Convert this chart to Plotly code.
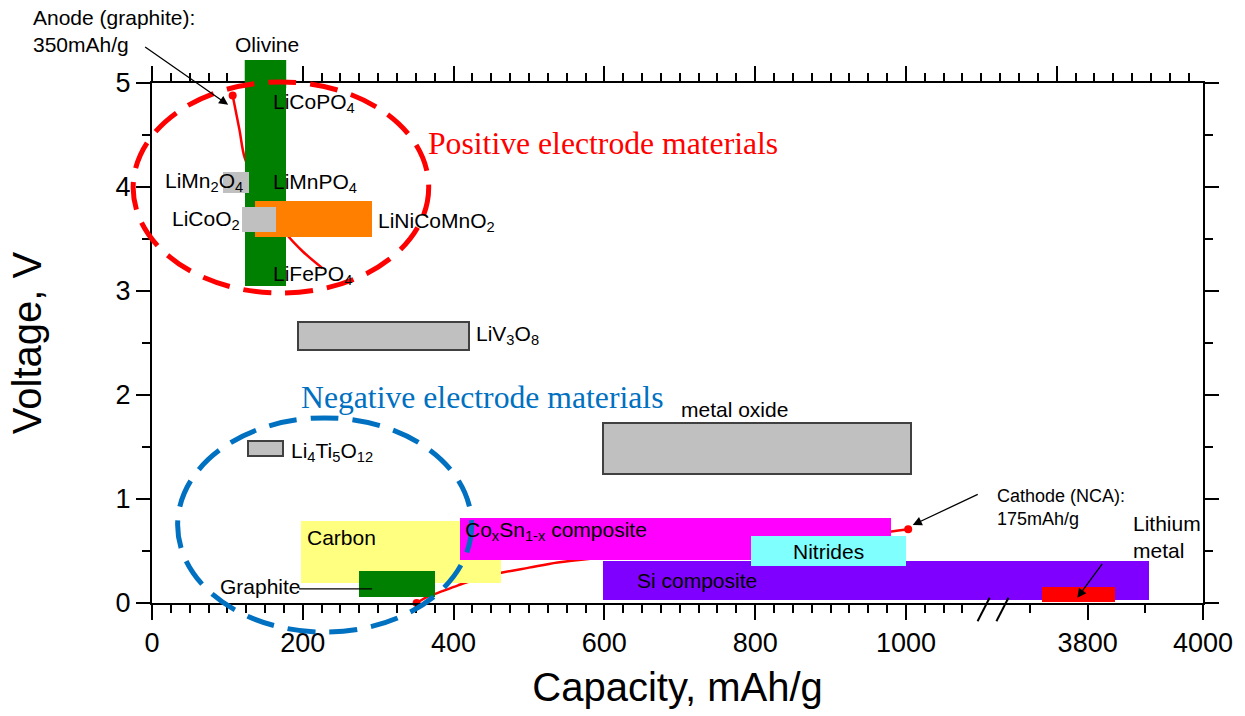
import plotly.graph_objects as go

SANS = "Liberation Sans"
SERIF = "Liberation Serif"

# ---------------------------------------------------------------------------
# Broken capacity axis: 0-1100 mAh/g linear, then a compressed 3700-4000 part
# ---------------------------------------------------------------------------
SEG2_REF = 3800        # capacity placed at SEG2_POS on the axis
SEG2_POS = 1241
SEG2_SCALE = 0.765


def xpos(cap):
    """Capacity (mAh/g) -> position on the broken x axis."""
    if cap < 2000:
        return cap
    return SEG2_POS + (cap - SEG2_REF) * SEG2_SCALE


X_MAX = xpos(4000)
Y_MAX = 5.0


def paper_x(cap):
    return xpos(cap) / X_MAX


def paper_y(volt):
    return volt / Y_MAX


# ---------------------------------------------------------------------------
# Material regions (capacity range, voltage range)
# ---------------------------------------------------------------------------
materials = ["Olivine", "LiMn2O4", "LiNiCoMnO2", "LiCoO2", "LiV3O8", "Li4Ti5O12",
             "metal oxide", "Carbon", "CoxSn1-x composite", "Si composite",
             "Nitrides", "Graphite", "Lithium metal"]
cap_min = [123, 94, 136, 119, 193, 127, 598, 198, 409, 598, 795, 274, 3721]
cap_max = [178, 129, 292, 164, 421, 174, 1007, 463, 980, 3907, 1000, 376, 3847]
volt_min = [3.05, 3.94, 3.52, 3.57, 2.43, 1.41, 1.24, 0.19, 0.41, 0.03, 0.36, 0.06, 0.01]
volt_max = [5.22, 4.14, 3.87, 3.81, 2.70, 1.56, 1.73, 0.79, 0.82, 0.40, 0.64, 0.31, 0.15]

fill_colors = ["#008000", "#C0C0C0", "#FF8000", "#C0C0C0", "#C0C0C0", "#C0C0C0",
               "#C0C0C0", "#FFFF80", "#FF00FF", "#8000FF", "#80FFFF", "#008000", "#FF0000"]
edge_widths = [0, 0, 0, 0, 2, 2, 2, 0, 0, 0, 0, 0, 0]

# Discharge curves
high_curve_cap = [107, 116, 123, 140, 160, 178, 200, 226]
high_curve_volt = [4.88, 4.55, 4.28, 4.00, 3.75, 3.55, 3.38, 3.22]
low_curve_cap = [351, 365, 380, 406, 435, 463, 500, 538, 600, 700, 800, 900, 960, 1003]
low_curve_volt = [0.00, 0.06, 0.10, 0.17, 0.24, 0.29, 0.34, 0.39, 0.44, 0.51, 0.57, 0.63, 0.67, 0.71]
curve_end_cap = [107, 351, 1003]
curve_end_volt = [4.88, 0.00, 0.71]

# Axis ticks
cap_major = [0, 200, 400, 600, 800, 1000, 3800, 4000]
cap_minor = [c for c in range(25, 1100, 25) if c % 200 != 0] + [3700, 3900]

fig = go.Figure()

# curves sit on the main subplot, underneath the material blocks
fig.add_trace(go.Scatter(
    x=[xpos(c) for c in high_curve_cap], y=high_curve_volt, mode="lines",
    line=dict(color="#FF0000", width=2.5, shape="spline"),
    xaxis="x", yaxis="y", hoverinfo="skip", showlegend=False))
fig.add_trace(go.Scatter(
    x=[xpos(c) for c in low_curve_cap], y=low_curve_volt, mode="lines",
    line=dict(color="#FF0000", width=2.5, shape="spline"),
    xaxis="x", yaxis="y", hoverinfo="skip", showlegend=False))
fig.add_trace(go.Scatter(
    x=[xpos(c) for c in curve_end_cap], y=curve_end_volt, mode="markers",
    marker=dict(color="#FF0000", size=8), cliponaxis=False,
    xaxis="x", yaxis="y", hoverinfo="skip", showlegend=False))

# material blocks as floating horizontal bars on the overlaid top axis
fig.add_trace(go.Bar(
    orientation="h",
    y=[(a + b) / 2 for a, b in zip(volt_min, volt_max)],
    width=[b - a for a, b in zip(volt_min, volt_max)],
    base=[xpos(a) for a in cap_min],
    x=[xpos(b) - xpos(a) for a, b in zip(cap_min, cap_max)],
    marker=dict(color=fill_colors, line=dict(color="#404040", width=edge_widths)),
    cliponaxis=False, xaxis="x2", yaxis="y",
    hoverinfo="skip", showlegend=False, name="materials"))

tick_font = dict(family=SANS, size=27, color="black")

fig.update_layout(
    width=1245, height=716,
    margin=dict(l=152, r=36, t=83, b=113),
    paper_bgcolor="white", plot_bgcolor="white",
    barmode="overlay", bargap=0,
    xaxis=dict(
        range=[0, X_MAX], tickmode="array",
        tickvals=[xpos(c) for c in cap_major], ticktext=[str(c) for c in cap_major],
        ticks="outside", ticklen=15, tickwidth=2, tickcolor="black",
        minor=dict(tickmode="array", tickvals=[xpos(c) for c in cap_minor],
                   ticks="outside", ticklen=8, tickwidth=2, tickcolor="black"),
        showline=True, linewidth=2, linecolor="black",
        showgrid=False, zeroline=False, tickfont=tick_font,
        title=dict(text="Capacity, mAh/g", font=dict(family=SANS, size=40, color="black"),
                   standoff=16)),
    xaxis2=dict(
        range=[0, X_MAX], overlaying="x", side="top",
        tickmode="linear", tick0=0, dtick=200,
        ticks="outside", ticklen=15, tickwidth=2, tickcolor="black",
        minor=dict(dtick=25, ticks="outside", ticklen=8, tickwidth=2, tickcolor="black"),
        showticklabels=False, showline=True, linewidth=2, linecolor="black",
        showgrid=False, zeroline=False, layer="below traces"),
    yaxis=dict(
        range=[0, Y_MAX], tickmode="linear", tick0=0, dtick=1,
        ticks="outside", ticklen=14, tickwidth=2, tickcolor="black",
        minor=dict(dtick=0.5, ticks="outside", ticklen=8, tickwidth=2, tickcolor="black"),
        showline=True, linewidth=2, linecolor="black", mirror="ticks",
        showgrid=False, zeroline=False, tickfont=tick_font,
        title=dict(text="Voltage, V", font=dict(family=SANS, size=40, color="black"),
                   standoff=62)),
)

# the Olivine block rises above the frame: draw that overhang unclipped
fig.add_shape(type="rect", xref="paper", yref="paper",
              x0=paper_x(cap_min[0]), x1=paper_x(cap_max[0]),
              y0=paper_y(Y_MAX) - 0.01, y1=paper_y(volt_max[0]),
              fillcolor=fill_colors[0], line=dict(width=0), layer="above")

# ---------------------------------------------------------------------------
# Dashed groupings (paper coordinates so they can run past the frame)
# ---------------------------------------------------------------------------
fig.add_shape(type="circle", xref="paper", yref="paper",
              x0=paper_x(-25), x1=paper_x(367), y0=paper_y(2.98), y1=paper_y(5.01),
              line=dict(color="#FF0000", width=5, dash="28px,14px"), layer="above")
fig.add_shape(type="circle", xref="paper", yref="paper",
              x0=paper_x(34), x1=paper_x(424), y0=paper_y(-0.28), y1=paper_y(1.78),
              line=dict(color="#0070C0", width=5, dash="28px,14px"), layer="above")

# axis break marks
for start in (1095, 1120):
    fig.add_shape(type="line", xref="x", yref="paper",
                  x0=start, x1=start + 16, y0=-0.035, y1=0.01,
                  line=dict(color="black", width=2), layer="above")

# leader from the Graphite label into its block
fig.add_shape(type="line", xref="x", yref="y",
              x0=xpos(195), x1=xpos(292), y0=0.135, y1=0.135,
              line=dict(color="black", width=1.3), layer="above")

# ---------------------------------------------------------------------------
# Labels
# ---------------------------------------------------------------------------
def label(text, cap, volt, anchor="left", size=21, color="black", family=SANS):
    fig.add_annotation(text=text, xref="paper", yref="paper",
                       x=paper_x(cap), y=paper_y(volt), align=anchor,
                       xanchor=anchor, yanchor="middle", showarrow=False,
                       font=dict(family=family, size=size, color=color))


label("Olivine", 153, 5.37, anchor="center")
label("Anode (graphite):<br>350mAh/g", -161, 5.50, size=21)
label("LiCoPO<sub>4</sub>", 158, 4.81)
label("LiMn<sub>2</sub>O<sub>4</sub>", 14, 4.05)
label("LiMnPO<sub>4</sub>", 158, 4.04)
label("LiCoO<sub>2</sub>", 24, 3.68)
label("LiNiCoMnO<sub>2</sub>", 297, 3.66)
label("LiFePO<sub>4</sub>", 158, 3.15)
label("LiV<sub>3</sub>O<sub>8</sub>", 427, 2.58)
label("Li<sub>4</sub>Ti<sub>5</sub>O<sub>12</sub>", 182, 1.45)
label("metal oxide", 772, 1.86, anchor="center")
label("Carbon", 203, 0.63)
label("Co<sub>x</sub>Sn<sub>1-x</sub> composite", 413, 0.69)
label("Nitrides", 897, 0.50, anchor="center")
label("Si composite", 641, 0.22)
label("Graphite", 87, 0.16)
label("Cathode (NCA):<br>175mAh/g", 1118, 0.92, size=18)
label("Lithium<br>metal", 3876, 0.63, size=21)
label("Positive electrode materials", 363, 4.42, size=31.7, color="#FF0000", family=SERIF)
label("Negative electrode materials", 195, 1.98, size=31.7, color="#0070C0", family=SERIF)


def pointer(cap, volt, ax, ay):
    fig.add_annotation(text=" ", xref="x", yref="y", x=xpos(cap), y=volt,
                       ax=ax, ay=ay, showarrow=True, arrowhead=2, arrowsize=1.4,
                       arrowwidth=1.3, arrowcolor="black", standoff=0)


pointer(101, 4.79, -86, -60)
pointer(1009, 0.75, 68, -32)
pointer(3782, 0.05, 28, -38)

fig.write_html("out.html")
